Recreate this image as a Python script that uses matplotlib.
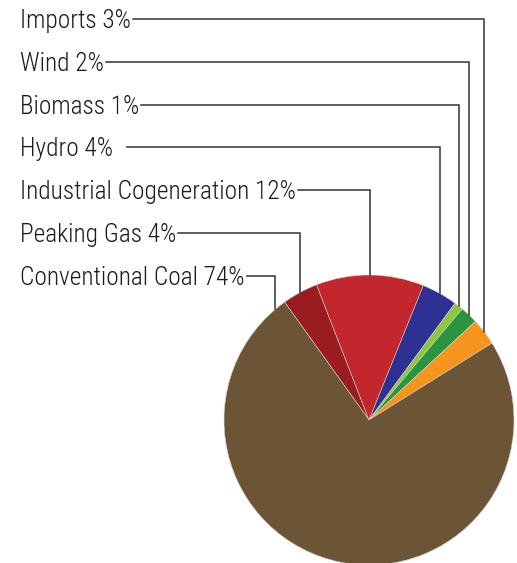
import numpy as np
import matplotlib
matplotlib.use("Agg")
import matplotlib.pyplot as plt

# share of generation, listed clockwise from the top-left edge of the coal slice
sources = ["Peaking Gas", "Industrial Cogeneration", "Hydro", "Biomass", "Wind", "Imports", "Conventional Coal"]
shares = [4, 12, 4, 1, 2, 3, 74]
colors = ["#9A1B20", "#C1272D", "#2E3192", "#8DC63F", "#2A9441", "#F7941D", "#6B5536"]

# label rows, top to bottom
label_order = ["Imports", "Wind", "Biomass", "Hydro", "Industrial Cogeneration", "Peaking Gas", "Conventional Coal"]

W, H = 517, 563
start = 125.6

fig = plt.figure(figsize=(W / 100, H / 100), dpi=100)
ax = fig.add_axes([0, 0, 1, 1])

cx, cy, r = 369, H - 420, 145
wedges, _ = ax.pie(shares, colors=colors, startangle=start, counterclock=False,
                   center=(cx, cy), radius=r, frame=True,
                   wedgeprops=dict(linewidth=0.4, edgecolor="#d8cfc0"))
ax.set_xlim(0, W)
ax.set_ylim(0, H)
ax.set_aspect("equal")
ax.axis("off")

font = ["Roboto Condensed", "DejaVu Sans"]
row_top = H - 19
row_step = 42.8

texts = []
for i, name in enumerate(label_order):
    k = sources.index(name)
    y_line = row_top - i * row_step
    t = ax.text(20, y_line - 9, f"{name} {shares[k]}%", fontsize=18.3, family=font,
                weight="light", color="#1a1a1a", ha="left", va="baseline")
    texts.append((t, k, y_line))

fig.canvas.draw()
renderer = fig.canvas.get_renderer()
inv = ax.transData.inverted()

for t, k, y_line in texts:
    w = wedges[k]
    if sources[k] == "Conventional Coal":
        ang = start + 4.6
    else:
        ang = (w.theta1 + w.theta2) / 2
    ax_x = cx + r * np.cos(np.radians(ang))
    ax_y = cy + r * np.sin(np.radians(ang))
    bb = t.get_window_extent(renderer)
    x0 = inv.transform((bb.x1, 0))[0] + 2
    if sources[k] == "Hydro":
        x0 += 12
    ax.plot([x0, ax_x, ax_x], [y_line, y_line, ax_y], color="#333333", lw=1.1,
            solid_joinstyle="miter")

fig.savefig("out.png", dpi=100)
